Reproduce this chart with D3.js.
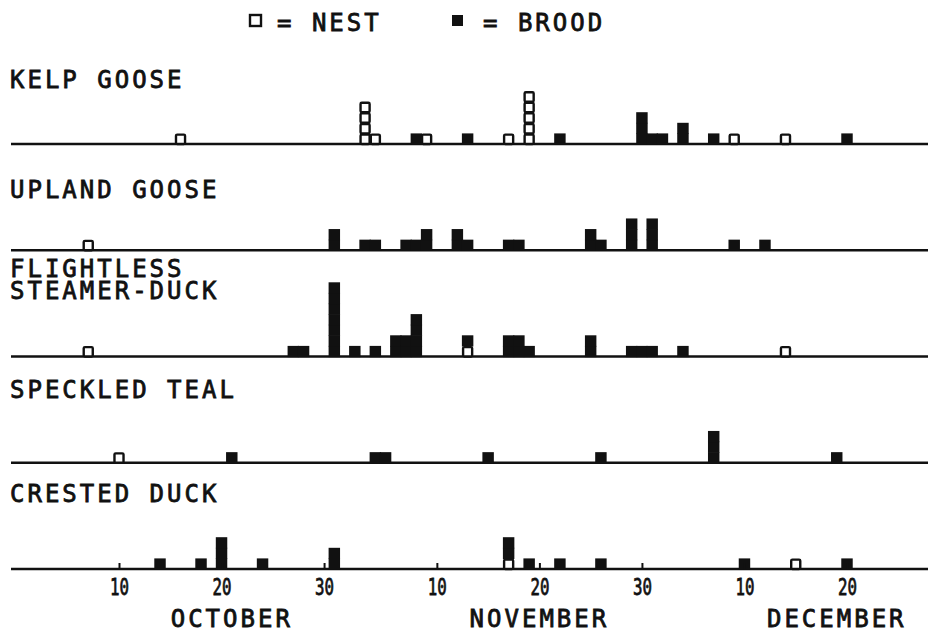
<!DOCTYPE html>
<html>
<head>
<meta charset="utf-8">
<script src="https://cdn.jsdelivr.net/npm/d3@7"></script>
<style>
  body { margin: 0; background: #fff; }
  svg { display: block; }
  text { font-family: "DejaVu Sans Mono", monospace; fill: #111; stroke: #111; stroke-width: 0.8px; }
</style>
</head>
<body>
<div id="chart"></div>
<script>
// species names, one entry per panel (lines of the label)
const speciesLines = [
  ["KELP GOOSE"],
  ["UPLAND GOOSE"],
  ["FLIGHTLESS", "STEAMER-DUCK"],
  ["SPECKLED TEAL"],
  ["CRESTED DUCK"]
];

// [month-day, count] -- nests (open squares) and broods (filled squares)
const kelpNests = [["10-16",1],["11-03",4],["11-04",1],["11-09",1],["11-17",1],["11-19",5],["12-09",1],["12-14",1]];
const kelpBroods = [["11-08",1],["11-13",1],["11-22",1],["11-30",3],["12-01",1],["12-02",1],["12-04",2],["12-07",1],["12-20",1]];

const uplandNests = [["10-07",1]];
const uplandBroods = [["10-31",2],["11-03",1],["11-04",1],["11-07",1],["11-08",1],["11-09",2],["11-12",2],["11-13",1],
  ["11-17",1],["11-18",1],["11-25",2],["11-26",1],["11-29",3],["12-01",3],["12-09",1],["12-12",1]];

const steamerNests = [["10-07",1],["11-13",1],["12-14",1]];
const steamerBroods = [["10-27",1],["10-28",1],["10-31",7],["11-02",1],["11-04",1],["11-06",2],["11-07",2],["11-08",4],
  ["11-13",1],["11-17",2],["11-18",2],["11-19",1],["11-25",2],["11-29",1],["11-30",1],["12-01",1],["12-04",1]];

const tealNests = [["10-10",1]];
const tealBroods = [["10-21",1],["11-04",1],["11-05",1],["11-15",1],["11-26",1],["12-07",3],["12-19",1]];

const crestedNests = [["11-17",1],["12-15",1]];
const crestedBroods = [["10-14",1],["10-18",1],["10-20",3],["10-24",1],["10-31",2],["11-17",2],["11-19",1],
  ["11-22",1],["11-26",1],["12-10",1],["12-20",1]];

const nestSeries = [kelpNests, uplandNests, steamerNests, tealNests, crestedNests];
const broodSeries = [kelpBroods, uplandBroods, steamerBroods, tealBroods, crestedBroods];

// axis
const tickDates = ["10-10","10-20","10-30","11-10","11-20","11-30","12-10","12-20"];
const tickLabels = ["10","20","30","10","20","30","10","20"];
const monthNames = ["OCTOBER", "NOVEMBER", "DECEMBER"];
const monthAt = ["10-21", "11-20", "12-19"];

const legendLabels = ["= NEST", "= BROOD"];

const parseDay = s => d3.utcParse("%Y-%m-%d")("1980-" + s);

const width = 928, height = 633;
const svg = d3.select("#chart").append("svg")
  .attr("width", width)
  .attr("height", height);

const x = d3.scaleUtc()
  .domain([parseDay("10-10"), parseDay("12-20")])
  .range([119, 847]);

const dayW = x(parseDay("10-11")) - x(parseDay("10-10"));
const sq = 10.6;   // height of one unit square

const base = d3.scalePoint()
  .domain(d3.range(speciesLines.length))
  .range([144, 569]);

// label text baselines (first line), relative to each panel's axis
const labelDy = [-56, -52, -80, -65, -67];

// build unit squares: nests at the bottom, broods stacked above
const cells = [];
speciesLines.forEach((_, p) => {
  const nestCount = new Map();
  nestSeries[p].forEach(([d, n]) => {
    nestCount.set(d, n);
    for (let k = 0; k < n; k++) cells.push({ p, date: parseDay(d), level: k, type: "nest" });
  });
  broodSeries[p].forEach(([d, n]) => {
    const start = nestCount.get(d) || 0;
    for (let k = 0; k < n; k++) cells.push({ p, date: parseDay(d), level: start + k, type: "brood" });
  });
});

// panel baselines
svg.append("g").selectAll("line")
  .data(d3.range(speciesLines.length))
  .join("line")
  .attr("x1", 11).attr("x2", width)
  .attr("y1", d => base(d)).attr("y2", d => base(d))
  .attr("stroke", "#111")
  .attr("stroke-width", 2.6);

// panel labels
const labels = svg.append("g").selectAll("text")
  .data(speciesLines)
  .join("text")
  .attr("x", 10)
  .attr("y", (d, i) => base(i) + labelDy[i])
  .attr("font-size", 24)
  .attr("letter-spacing", 3);
labels.selectAll("tspan")
  .data(d => d)
  .join("tspan")
  .attr("x", 10)
  .attr("dy", (d, i) => i === 0 ? 0 : 22)
  .text(d => d);

// squares
const cellW = dayW + 1.2;
svg.append("g").selectAll("rect.brood")
  .data(cells.filter(c => c.type === "brood"))
  .join("rect")
  .attr("class", "brood")
  .attr("x", d => x(d.date) - cellW / 2)
  .attr("y", d => base(d.p) - (d.level + 1) * sq)
  .attr("width", cellW)
  .attr("height", sq + 0.6)
  .attr("fill", "#111");

svg.append("g").selectAll("rect.nest")
  .data(cells.filter(c => c.type === "nest"))
  .join("rect")
  .attr("class", "nest")
  .attr("x", d => x(d.date) - cellW / 2 + 1.2)
  .attr("y", d => base(d.p) - (d.level + 1) * sq + 1.2)
  .attr("width", cellW - 2.4)
  .attr("height", sq - 1.2)
  .attr("rx", 1.2)
  .attr("fill", "#fff")
  .attr("stroke", "#111")
  .attr("stroke-width", 2.4);

// bottom axis: small upward ticks, narrow day numbers
const axis = svg.append("g")
  .attr("transform", `translate(0,${base(speciesLines.length - 1)})`)
  .call(d3.axisBottom(x)
    .tickValues(tickDates.map(parseDay))
    .tickFormat((d, i) => tickLabels[i])
    .tickSize(-6)
    .tickPadding(10));
axis.select(".domain").remove();
axis.selectAll(".tick line").attr("stroke", "#111").attr("stroke-width", 2);
axis.selectAll(".tick text")
  .attr("font-family", "DejaVu Sans Mono, monospace")
  .attr("font-size", 23)
  .attr("fill", "#111")
  .attr("stroke", "#111")
  .attr("stroke-width", 0.8)
  .attr("textLength", 19)
  .attr("lengthAdjust", "spacingAndGlyphs");

svg.append("g").selectAll("text")
  .data(monthNames)
  .join("text")
  .attr("x", (d, i) => x(parseDay(monthAt[i])))
  .attr("y", 627)
  .attr("text-anchor", "middle")
  .attr("font-size", 24)
  .attr("letter-spacing", 3)
  .text(d => d);

// legend
const legend = svg.append("g");
legend.selectAll("rect")
  .data(["nest", "brood"])
  .join("rect")
  .attr("x", (d, i) => [250, 452][i])
  .attr("y", 15)
  .attr("width", 11)
  .attr("height", 11)
  .attr("fill", d => d === "nest" ? "#fff" : "#111")
  .attr("stroke", "#111")
  .attr("stroke-width", d => d === "nest" ? 2.4 : 0);
legend.selectAll("text")
  .data(legendLabels)
  .join("text")
  .attr("x", (d, i) => [277, 483][i])
  .attr("y", 31)
  .attr("font-size", 24)
  .attr("letter-spacing", 3)
  .attr("xml:space", "preserve")
  .text(d => d);
</script>
</body>
</html>
